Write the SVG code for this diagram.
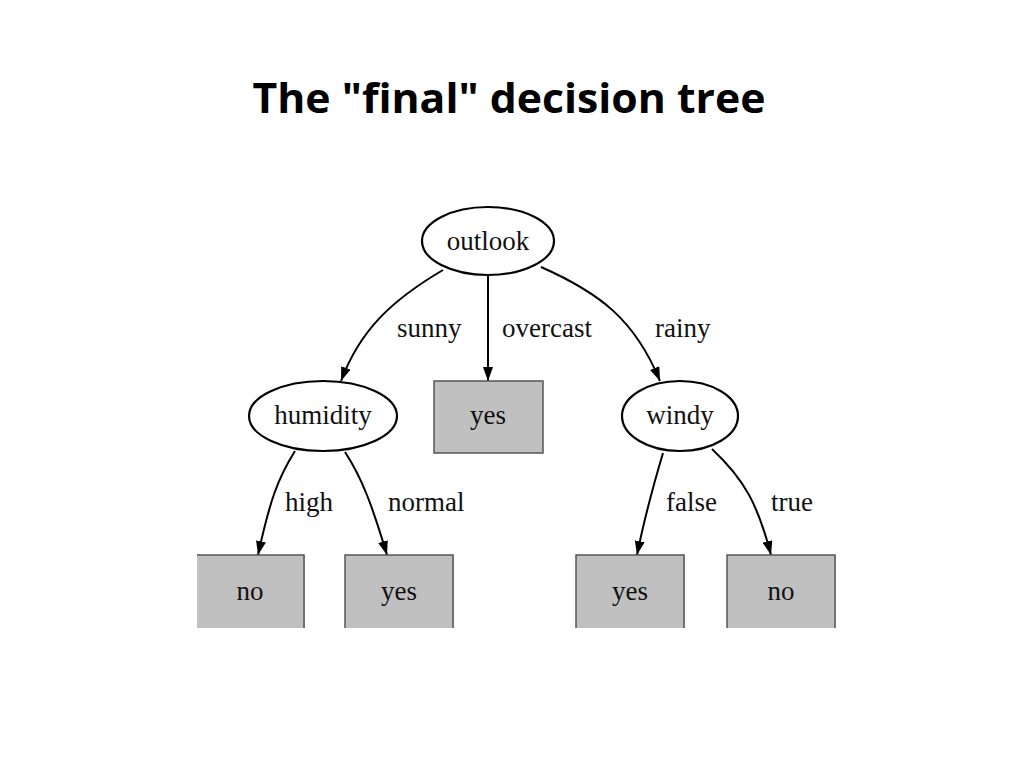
<svg xmlns="http://www.w3.org/2000/svg" width="1024" height="768" viewBox="0 0 1024 768">
<style>
.title{font-family:"Open Sans","Liberation Sans",sans-serif;font-weight:bold;font-size:42px;fill:#000}
.t{font-family:"Liberation Serif","Times New Roman",serif;font-size:27px;fill:#111}
.ell{fill:#fff;stroke:#000;stroke-width:2.2}
.box{fill:#c0c0c0;stroke:#555;stroke-width:1.5}
.leaf{fill:#c0c0c0}
.edge{fill:none;stroke:#000;stroke-width:2}
</style>
<defs>
<marker id="arr" markerWidth="14" markerHeight="10" refX="14" refY="5" orient="auto" markerUnits="userSpaceOnUse">
<path d="M0,0 L14,5 L0,10 Z" fill="#000"/>
</marker>
</defs>
<rect width="1024" height="768" fill="#fff"/>
<text class="title" x="509" y="113" text-anchor="middle" textLength="513" lengthAdjust="spacingAndGlyphs">The "final" decision tree</text>

<g id="connectors">
<path class="edge" marker-end="url(#arr)" d="M443,270 C392,300 360,330 341,381"/>
<path class="edge" marker-end="url(#arr)" d="M488,276 L488,381"/>
<path class="edge" marker-end="url(#arr)" d="M541,267 C600,293 635,320 660,381"/>
<path class="edge" marker-end="url(#arr)" d="M295,451 C278,478 270,500 258,555"/>
<path class="edge" marker-end="url(#arr)" d="M345,452 C362,478 372,505 387,555"/>
<path class="edge" marker-end="url(#arr)" d="M663,453 C652,490 645,515 637,555"/>
<path class="edge" marker-end="url(#arr)" d="M712,449 C745,480 758,505 771,555"/>
<text class="t" x="397" y="337">sunny</text>
<text class="t" x="502" y="337">overcast</text>
<text class="t" x="655" y="337">rainy</text>
<text class="t" x="285" y="511">high</text>
<text class="t" x="388" y="511">normal</text>
<text class="t" x="666" y="511">false</text>
<text class="t" x="771" y="511">true</text>
</g>

<g id="outlook">
<ellipse class="ell" cx="488" cy="241" rx="66" ry="34"/>
<text class="t" x="488" y="250" text-anchor="middle">outlook</text>
</g>
<g id="humidity">
<ellipse class="ell" cx="323" cy="416" rx="74" ry="35"/>
<text class="t" x="323" y="424" text-anchor="middle">humidity</text>
</g>
<g id="yes-overcast">
<rect class="box" x="434" y="381" width="109" height="72"/>
<text class="t" x="488" y="424" text-anchor="middle">yes</text>
</g>
<g id="windy">
<ellipse class="ell" cx="680" cy="416" rx="58" ry="35"/>
<text class="t" x="680" y="424" text-anchor="middle">windy</text>
</g>
<g id="no-high">
<rect class="leaf" x="197" y="555" width="108" height="73"/>
<path d="M197,555 H304 V628" fill="none" stroke="#555" stroke-width="1.5"/>
<text class="t" x="250" y="600" text-anchor="middle">no</text>
</g>
<g id="yes-normal">
<rect class="leaf" x="345" y="555" width="109" height="73"/>
<path d="M345,628 V555 H453 V628" fill="none" stroke="#555" stroke-width="1.5"/>
<text class="t" x="399" y="600" text-anchor="middle">yes</text>
</g>
<g id="yes-false">
<rect class="leaf" x="576" y="555" width="109" height="73"/>
<path d="M576,628 V555 H684 V628" fill="none" stroke="#555" stroke-width="1.5"/>
<text class="t" x="630" y="600" text-anchor="middle">yes</text>
</g>
<g id="no-true">
<rect class="leaf" x="727" y="555" width="109" height="73"/>
<path d="M727,628 V555 H835 V628" fill="none" stroke="#555" stroke-width="1.5"/>
<text class="t" x="781" y="600" text-anchor="middle">no</text>
</g>
</svg>
